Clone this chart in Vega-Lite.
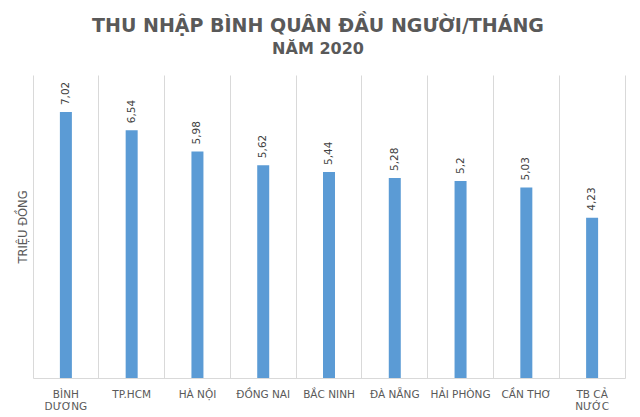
{
  "$schema": "https://vega.github.io/schema/vega-lite/v6.json",
  "autosize": "none",
  "width": 592,
  "height": 303,
  "padding": {"left": 33, "top": 75, "right": 15, "bottom": 39},
  "background": "white",
  "config": {
    "view": {"stroke": null},
    "locale": {"number": {"decimal": ",", "thousands": ".", "grouping": [3], "currency": ["", " ₫"]}},
    "font": "DejaVu Sans"
  },
  "title": {
    "text": "THU NHẬP BÌNH QUÂN ĐẦU NGƯỜI/THÁNG",
    "subtitle": "NĂM 2020",
    "font": "DejaVu Sans",
    "fontSize": 19,
    "fontWeight": "bold",
    "color": "#595959",
    "subtitleFont": "DejaVu Sans",
    "subtitleFontSize": 16,
    "subtitleFontWeight": "bold",
    "subtitleColor": "#595959",
    "subtitlePadding": 5,
    "anchor": "middle",
    "frame": "group",
    "dx": -11,
    "offset": 18
  },
  "data": {
    "values": [
      {"tinh": "BÌNH DƯƠNG", "value": 7.02},
      {"tinh": "TP.HCM", "value": 6.54},
      {"tinh": "HÀ NỘI", "value": 5.98},
      {"tinh": "ĐỒNG NAI", "value": 5.62},
      {"tinh": "BẮC NINH", "value": 5.44},
      {"tinh": "ĐÀ NẴNG", "value": 5.28},
      {"tinh": "HẢI PHÒNG", "value": 5.2},
      {"tinh": "CẦN THƠ", "value": 5.03},
      {"tinh": "TB CẢ NƯỚC", "value": 4.23}
    ]
  },
  "encoding": {
    "x": {
      "field": "tinh",
      "type": "nominal",
      "sort": null,
      "scale": {"paddingInner": 0, "paddingOuter": 0},
      "axis": {
        "title": null,
        "labelAngle": 0,
        "labelFontSize": 10.5,
        "labelColor": "#595959",
        "labelPadding": 11,
        "labelLineHeight": 12,
        "labelExpr": "datum.label == 'BÌNH DƯƠNG' ? ['BÌNH', 'DƯƠNG'] : datum.label == 'TB CẢ NƯỚC' ? ['TB CẢ', 'NƯỚC'] : datum.label",
        "ticks": false,
        "grid": true,
        "bandPosition": 0,
        "gridColor": "#D9D9D9",
        "gridWidth": 1,
        "domainColor": "#D9D9D9",
        "domainWidth": 1
      }
    },
    "y": {
      "field": "value",
      "type": "quantitative",
      "scale": {"domain": [0, 8], "nice": false}
    }
  },
  "layer": [
    {
      "mark": {"type": "bar", "size": 12, "color": "#5B9BD5"},
      "encoding": {
        "y": {
          "field": "value",
          "type": "quantitative",
          "scale": {"domain": [0, 8], "nice": false},
          "axis": {
            "title": "TRIỆU ĐỒNG",
            "titleFontSize": 11.5,
            "titleFontWeight": "normal",
            "titleColor": "#595959",
            "titlePadding": 5,
            "labels": false,
            "ticks": false,
            "grid": false,
            "domain": false
          }
        }
      }
    },
    {
      "mark": {"type": "text", "align": "left", "baseline": "middle", "dx": 7, "fontSize": 10.5, "color": "#404040"},
      "encoding": {
        "y": {
          "field": "value",
          "type": "quantitative",
          "scale": {"domain": [0, 8], "nice": false},
          "axis": {
            "orient": "right",
            "title": null,
            "labels": false,
            "ticks": false,
            "grid": false,
            "domain": true,
            "domainColor": "#D9D9D9"
          }
        },
        "angle": {"value": 270},
        "text": {"field": "value", "type": "quantitative", "format": ".3~g"}
      }
    }
  ],
  "resolve": {"axis": {"y": "independent"}}
}
